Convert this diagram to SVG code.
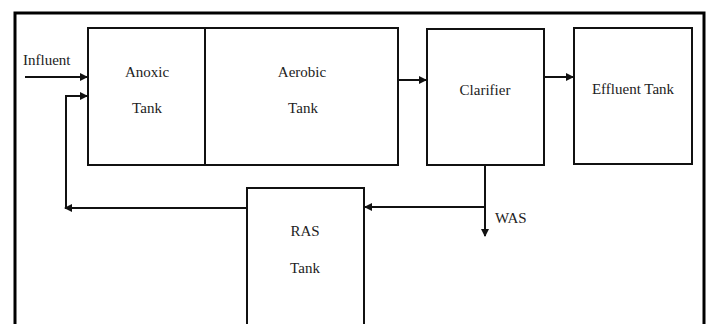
<svg xmlns="http://www.w3.org/2000/svg" width="709" height="324" viewBox="0 0 709 324">
<style>
.box{fill:#fff;stroke:#111;stroke-width:2}
.ln{fill:none;stroke:#111;stroke-width:2}
.t{font-family:'Liberation Serif','DejaVu Serif',serif;font-size:15px;fill:#222}
.m{text-anchor:middle}
</style>
<defs>
<marker id="ah" markerWidth="8" markerHeight="8" refX="7" refY="4" orient="auto" markerUnits="userSpaceOnUse">
<path d="M0,0 L8,4 L0,8 Z" fill="#111"/>
</marker>
</defs>
<rect width="709" height="324" fill="#fff"/>
<path d="M15,324 V13 H704 V324" fill="none" stroke="#000" stroke-width="3"/>
<g id="anoxic-aerobic">
<rect class="box" x="88" y="28" width="310" height="137"/>
<line class="ln" x1="205" y1="28" x2="205" y2="165"/>
</g>
<g id="anoxic"><text class="t m" x="147" y="77">Anoxic</text><text class="t m" x="147" y="113">Tank</text></g>
<g id="aerobic"><text class="t m" x="302" y="77">Aerobic</text><text class="t m" x="303" y="113">Tank</text></g>
<g id="clarifier"><rect class="box" x="427" y="29" width="117" height="136"/><text class="t m" x="485" y="95">Clarifier</text></g>
<g id="effluent"><rect class="box" x="574" y="28" width="118" height="136"/><text class="t m" x="633" y="94">Effluent Tank</text></g>
<g id="ras"><rect class="box" x="247" y="188" width="117" height="140"/><text class="t m" x="305" y="236">RAS</text><text class="t m" x="305" y="273">Tank</text></g>
<g id="connectors">
<line class="ln" x1="25" y1="77" x2="87" y2="77" marker-end="url(#ah)"/>
<text class="t" x="23" y="65">Influent</text>
<line class="ln" x1="398" y1="80" x2="426" y2="80" marker-end="url(#ah)"/>
<line class="ln" x1="544" y1="77" x2="573" y2="77" marker-end="url(#ah)"/>
<line class="ln" x1="485" y1="165" x2="485" y2="236" marker-end="url(#ah)"/>
<line class="ln" x1="485" y1="207" x2="365" y2="207" marker-end="url(#ah)"/>
<text class="t" x="495" y="223">WAS</text>
<line class="ln" x1="247" y1="208" x2="65" y2="208" marker-end="url(#ah)"/>
<polyline class="ln" points="66,208 66,96 87,96" marker-end="url(#ah)"/>
</g>
</svg>
